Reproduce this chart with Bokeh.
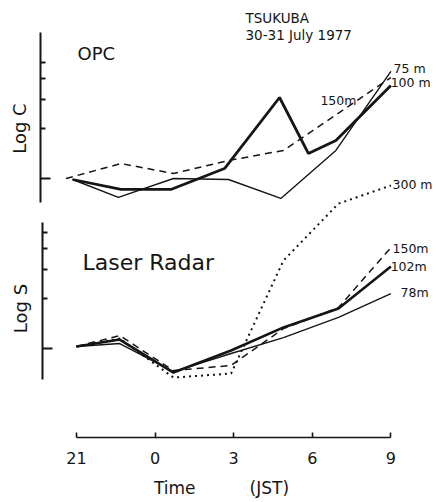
import numpy as np
from bokeh.plotting import figure
from bokeh.models import Range1d, LinearAxis, FixedTicker
from bokeh.core.properties import value
from bokeh.embed import file_html
from bokeh.resources import INLINE

# x = hours after 21 JST (30 July 1977)
x_ticks = [0, 3, 6, 9, 12]
x_tick_labels = ["21", "0", "3", "6", "9"]

# ---- OPC panel (Log C, relative) ----
opc_t_75 = [-0.15, 1.6, 3.7, 5.8, 7.8, 9.9, 12.0]
opc_logc_75 = [-0.006, -0.114, 0.0, -0.006, -0.120, 0.169, 0.645]
opc_t_100 = [-0.15, 1.7, 3.6, 5.65, 7.75, 8.85, 9.9, 12.0]
opc_logc_100 = [-0.006, -0.066, -0.066, 0.060, 0.488, 0.151, 0.229, 0.560]
opc_t_150 = [-0.4, 1.7, 3.7, 5.8, 7.9, 12.0]
opc_logc_150 = [0.0, 0.090, 0.030, 0.108, 0.169, 0.608]

# ---- Laser radar panel (Log S, relative) ----
lr_t = [0.0, 1.65, 3.7, 5.9, 7.9, 10.0, 12.0]
lr_logs_78 = [0.012, 0.030, -0.139, -0.030, 0.066, 0.187, 0.331]
lr_logs_102 = [0.012, 0.054, -0.145, -0.012, 0.127, 0.241, 0.494]
lr_logs_150 = [0.012, 0.078, -0.133, -0.102, 0.120, 0.247, 0.608]
lr_logs_300 = [0.012, 0.060, -0.175, -0.151, 0.530, 0.873, 0.982]

log_minor = list(np.log10([2, 3, 4, 5]))

FONT = value("DejaVu Sans")
INK = "#151515"

p = figure(width=434, height=501, output_backend="svg", toolbar_location=None,
           x_range=Range1d(-2.595, 13.664), y_range=Range1d(0, 1),
           y_axis_location=None,
           min_border_left=8, min_border_right=0, min_border_top=8,
           min_border_bottom=64)
p.extra_y_ranges = {"opc": Range1d(-1.5602, 1.0241),
                    "lr": Range1d(-0.5361, 2.0482)}
p.grid.visible = False
p.outline_line_color = None
p.background_fill_color = "white"
p.border_fill_color = "white"

# x axis
xa = p.xaxis[0]
xa.ticker = FixedTicker(ticks=x_ticks)
xa.major_label_overrides = {t: s for t, s in zip(x_ticks, x_tick_labels)}
xa.bounds = (0, 12)
xa.minor_tick_line_color = None
xa.major_tick_in = 5
xa.major_tick_out = 0
xa.axis_line_width = 1.6
xa.major_tick_line_width = 1.6
xa.axis_line_color = INK
xa.major_tick_line_color = INK
xa.major_label_text_font = "DejaVu Sans"
xa.major_label_text_font_size = "16px"
xa.major_label_text_color = INK
xa.major_label_standoff = 14
xa.axis_label = "Time" + "\u00a0" * 10 + "(JST)"
xa.axis_label_text_font = "DejaVu Sans"
xa.axis_label_text_font_size = "17px"
xa.axis_label_text_font_style = "normal"
xa.axis_label_text_color = INK
xa.axis_label_standoff = 11

# y axes (two panels)
for name, bnd, loc in [("opc", (-0.1446, 0.8795), -1.374),
                       ("lr", (-0.1867, 0.759), -1.298)]:
    ax = LinearAxis(y_range_name=name,
                    ticker=FixedTicker(ticks=[0.0], minor_ticks=log_minor),
                    bounds=bnd, fixed_location=loc)
    ax.major_label_overrides = {0: ""}
    ax.major_label_text_font_size = "1px"
    ax.major_label_standoff = 0
    ax.major_tick_in = 10
    ax.major_tick_out = 0
    ax.minor_tick_in = 5
    ax.minor_tick_out = 0
    ax.axis_line_width = 2
    ax.major_tick_line_width = 2
    ax.minor_tick_line_width = 2
    ax.axis_line_color = INK
    ax.major_tick_line_color = INK
    ax.minor_tick_line_color = INK
    p.add_layout(ax, "left")

# OPC lines
p.line(opc_t_75, opc_logc_75, y_range_name="opc", line_color=INK, line_width=1.4)
p.line(opc_t_100, opc_logc_100, y_range_name="opc", line_color=INK, line_width=2.8)
p.line(opc_t_150, opc_logc_150, y_range_name="opc", line_color=INK, line_width=1.5,
       line_dash="7 5")

# Laser radar lines
p.line(lr_t, lr_logs_78, y_range_name="lr", line_color=INK, line_width=1.4)
p.line(lr_t, lr_logs_102, y_range_name="lr", line_color=INK, line_width=2.6)
p.line(lr_t, lr_logs_150, y_range_name="lr", line_color=INK, line_width=1.5,
       line_dash="7 5")
p.line(lr_t, lr_logs_300, y_range_name="lr", line_color=INK, line_width=2,
       line_dash="2 4")

# Texts: OPC panel
p.text(x=[6.45, 6.45], y=[0.964, 0.867], text=["TSUKUBA", "30-31 July 1977"],
       y_range_name="opc", text_font=FONT, text_font_size="13.5px",
       text_align="left", text_baseline="middle", text_color=INK)
p.text(x=[0.04], y=[0.753], text=["OPC"], y_range_name="opc", text_font=FONT,
       text_font_size="18px", text_align="left", text_baseline="middle", text_color=INK)
p.text(x=[12.1, 11.99, 9.31], y=[0.663, 0.578, 0.47], text=["75 m", "100 m", "150m"],
       y_range_name="opc", text_font=FONT, text_font_size="12.5px",
       text_align="left", text_baseline="middle", text_color=INK)
p.text(x=[-2.17], y=[0.301], text=["Log C"], y_range_name="opc", text_font=FONT,
       text_font_size="18px", text_align="center", text_baseline="middle",
       angle=np.pi / 2, text_color=INK)

# Texts: laser radar panel
p.text(x=[0.23], y=[0.518], text=["Laser Radar"], y_range_name="lr", text_font=FONT,
       text_font_size="22px", text_align="left", text_baseline="middle", text_color=INK)
p.text(x=[12.06, 12.06, 11.99, 12.37], y=[0.988, 0.602, 0.494, 0.337],
       text=["300 m", "150m", "102m", "78m"], y_range_name="lr", text_font=FONT,
       text_font_size="12.5px", text_align="left", text_baseline="middle", text_color=INK)
p.text(x=[-2.13], y=[0.241], text=["Log S"], y_range_name="lr", text_font=FONT,
       text_font_size="18px", text_align="center", text_baseline="middle",
       angle=np.pi / 2, text_color=INK)

open("out.html", "w").write(file_html(p, INLINE))
